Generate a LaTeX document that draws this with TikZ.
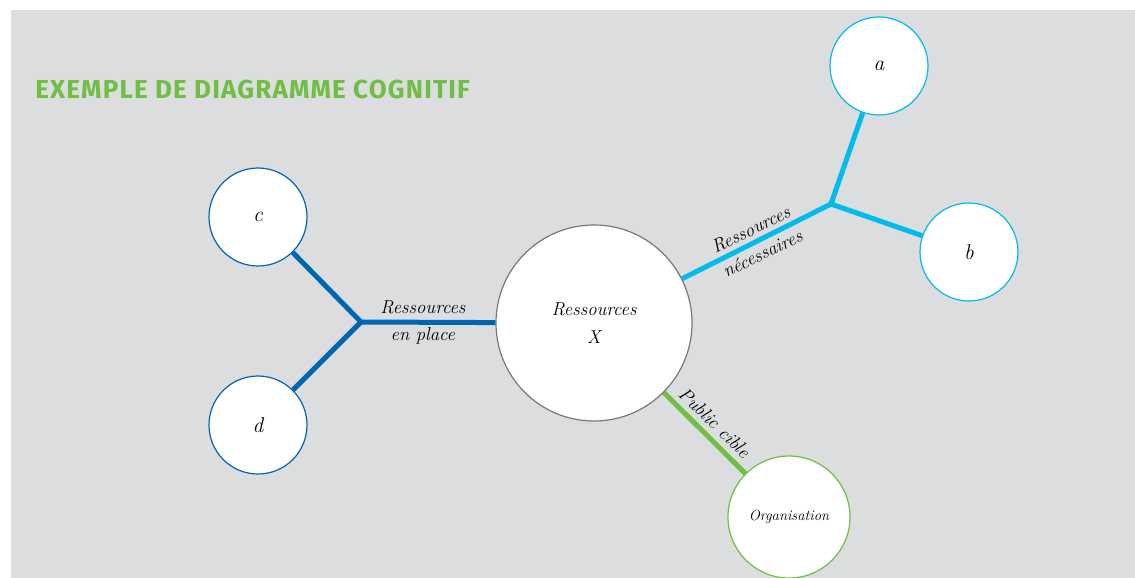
\documentclass[tikz,border=0pt]{standalone}
\usepackage{fontspec}
\newfontfamily\titlefont[LetterSpace=4.5]{Fira Sans}
\usetikzlibrary{positioning}

\tikzset{
  bubble/.style={circle, fill=white, line width=0.9pt, inner sep=0pt, font=\itshape\fontsize{16}{18}\selectfont},
  darkline/.style={color={rgb, 255:red, 0; green, 102; blue, 178 }, line width=3.75pt},
  lightline/.style={color={rgb, 255:red, 0; green, 187; blue, 236 }, line width=3.75pt},
  greenline/.style={color={rgb, 255:red, 112; green, 190; blue, 68 }, line width=3.75pt},
  branchlabel/.style={align=center, inner sep=1pt, text=black, font=\itshape\fontsize{14}{20}\selectfont}
}

\begin{document}
\begin{tikzpicture}[x=0.75pt,y=0.75pt,yscale=-1,xscale=1]
  \useasboundingbox (0,0) rectangle (1135,578);
  % background
  \fill [color={rgb, 255:red, 220; green, 221; blue, 223 }] (11,10) rectangle (1135,578);

  % Text Node
  \node (title) [anchor=west, inner sep=0pt, color={rgb, 255:red, 112; green, 190; blue, 68 }, font=\titlefont\bfseries\fontsize{19.5}{22}\selectfont] at (35,89) {EXEMPLE DE DIAGRAMME COGNITIF};

  % centre
  \node (ress) [bubble, draw={rgb, 255:red, 120; green, 120; blue, 120 }, minimum size=147pt, align=center, font=\itshape\fontsize{14}{17}\selectfont] at (594,323) {Ressources\\[4pt]X};

  % branches
  \coordinate (jleft) at (361,322);
  \coordinate (jright) at (831,204);
  \node (a) [bubble, draw={rgb, 255:red, 0; green, 187; blue, 236 }, minimum size=73.5pt] at (879,66) {a};
  \node (b) [bubble, draw={rgb, 255:red, 0; green, 187; blue, 236 }, minimum size=73.5pt] at (969,252) {b};
  \node (c) [bubble, draw={rgb, 255:red, 0; green, 102; blue, 178 }, minimum size=73.5pt] at (258,217) {c};
  \node (d) [bubble, draw={rgb, 255:red, 0; green, 102; blue, 178 }, minimum size=73.5pt] at (258,425) {d};
  \node (org) [bubble, draw={rgb, 255:red, 112; green, 190; blue, 68 }, minimum size=91.5pt, font=\itshape\fontsize{11}{13}\selectfont] at (789,517) {Organisation};

  % Straight Lines
  \draw [darkline] (ress) -- (jleft) node [midway, xshift=-4pt, branchlabel] {Ressources\\en place};
  \draw [darkline] (c) -- (jleft) -- (d);
  \draw [lightline] (ress) -- (jright) node [midway, rotate=26, branchlabel] {Ressources\\nécessaires};
  \draw [lightline] (a) -- (jright) -- (b);
  \draw [greenline] (ress) -- (org) node [midway, anchor=south, rotate=-44, branchlabel, inner sep=4pt] {Public cible};
\end{tikzpicture}
\end{document}
